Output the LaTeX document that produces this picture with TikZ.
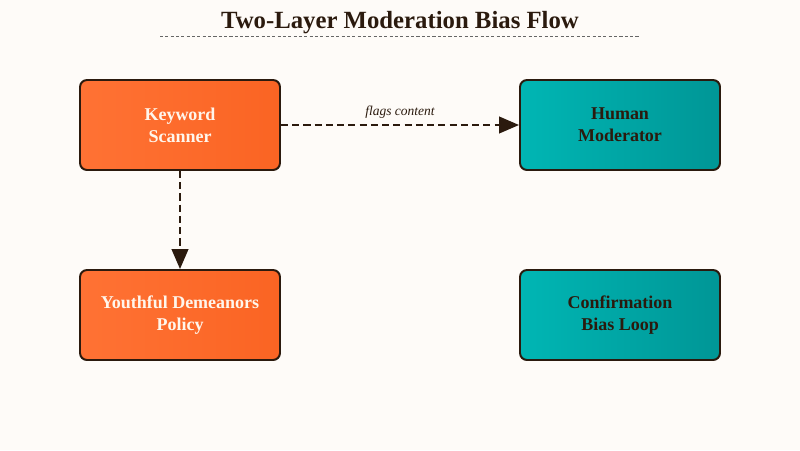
\documentclass[tikz,border=0pt]{standalone}
\usepackage{fontspec}
\setmainfont{Liberation Serif}
\usepackage{tikz}
\usepackage{xcolor}
\usetikzlibrary{arrows.meta, positioning, calc}
\definecolor{cPaper}{RGB}{254,251,248}
\definecolor{cInk}{RGB}{43,26,14}
\definecolor{cOrangeA}{RGB}{255,114,52}
\definecolor{cOrangeB}{RGB}{250,100,35}
\definecolor{cTealA}{RGB}{0,182,180}
\definecolor{cTealB}{RGB}{0,150,150}
\definecolor{cLight}{RGB}{255,246,236}
\tikzset{
	layerbox/.style={rectangle, rounded corners=5pt, minimum width=5cm, minimum height=2.25cm, text centered, align=center, draw=cInk, line width=1.4pt, font=\bfseries\fontsize{12.8}{15.5}\selectfont},
	hotbox/.style ={layerbox, left color=cOrangeA, right color=cOrangeB, text=cLight},
	coolbox/.style={layerbox, left color=cTealA, right color=cTealB, text=cInk},
	flowarrow/.style={-{Triangle[length=5mm, width=4.2mm]}, dashed, dash pattern=on 5pt off 3pt, line width=1.2pt, draw=cInk},
}
\begin{document}
\begin{tikzpicture}
	\fill[cPaper] (0,0) rectangle (20,-11.25);
	\node[font=\bfseries\fontsize{17.6}{20}\selectfont, text=cInk] (title) at (10,-0.56) {Two-Layer Moderation Bias Flow};
	\draw[gray!80!black, dashed, dash pattern=on 2.2pt off 1.6pt, line width=0.7pt] (4,-0.9) -- (16,-0.9);
	% boxes
	\node[hotbox] (scanner) at (4.5,-3.125) {Keyword\\Scanner};
	\node[coolbox] (human) at (15.5,-3.125) {Human\\Moderator};
	\node[hotbox] (policy) at (4.5,-7.875) {Youthful Demeanors\\Policy};
	\node[coolbox] (loop) at (15.5,-7.875) {Confirmation\\Bias Loop};
	% connectors
	\draw[flowarrow] (scanner) -- node[above=1pt, font=\itshape\fontsize{9.6}{11}\selectfont, text=cInk] {flags content} (human);
	\draw[flowarrow] (scanner) -- (policy);
\end{tikzpicture}
\end{document}
